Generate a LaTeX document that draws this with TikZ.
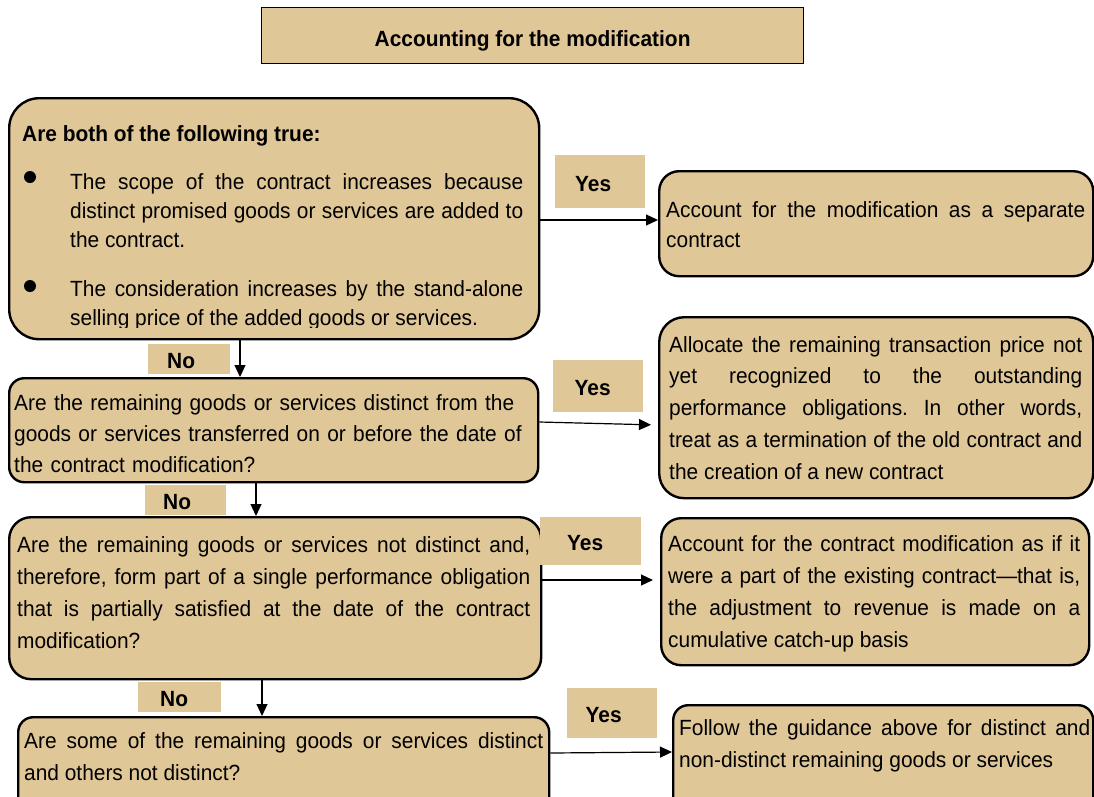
\documentclass[tikz,border=0pt]{standalone}
\usepackage{fontspec}
\setmainfont{Liberation Sans}[FakeStretch=0.95]
\usetikzlibrary{arrows.meta}
\definecolor{boxtan}{RGB}{224,199,151}
\tolerance=10000
\hbadness=10000
\frenchspacing
\tikzset{
  box/.style={draw=black, line width=2.4pt, fill=boxtan, inner sep=0pt, anchor=north west},
  lab/.style={fill=boxtan, inner ysep=0pt, anchor=north west, align=left, text height=19pt, text depth=0pt, font=\fontsize{22}{25}\selectfont\bfseries},
  txt/.style={inner sep=0pt, anchor=base west, font=\fontsize{22}{31}\selectfont},
  arr/.style={-{Triangle[length=12pt,width=11pt]}, line width=1.2pt},
  bul/.style={circle, fill=black, inner sep=0pt, minimum size=12pt},
}
\begin{document}
\begin{tikzpicture}[x=1pt,y=-1pt]
\useasboundingbox (0,0) rectangle (1094,796);
\clip (0,0) rectangle (1094,796);
% title
\node[draw=black, line width=1.2pt, fill=boxtan, minimum width=542pt, minimum height=56pt, anchor=north west, text height=21pt, text depth=0pt, font=\fontsize{22}{25}\selectfont\bfseries] (title) at (261,7) {Accounting for the modification};
% left boxes
\node[box, rounded corners=30pt, minimum width=530pt, minimum height=241pt] (b1) at (8,97) {};
\node[box, rounded corners=15pt, minimum width=529pt, minimum height=104pt] (b2) at (8,377) {};
\node[box, rounded corners=22pt, minimum width=532pt, minimum height=162pt] (b3) at (8,516) {};
\node[box, rounded corners=15pt, minimum width=531pt, minimum height=100pt] (b4) at (17,716) {};
% right boxes
\node[box, rounded corners=20pt, minimum width=434pt, minimum height=105pt] (r1) at (658,170) {};
\node[box, rounded corners=25pt, minimum width=434pt, minimum height=181pt] (r2) at (658,316) {};
\node[box, rounded corners=20pt, minimum width=428pt, minimum height=147pt] (r3) at (660,517) {};
\node[box, rounded corners=15pt, minimum width=420pt, minimum height=110pt] (r4) at (672,704) {};
% box 1 text
\node[txt, font=\fontsize{22}{29}\selectfont\bfseries] (b1h) at (22,141) {Are both of the following true:};
\node[bul] (d1) at (30,177) {};
\node[bul] (d2) at (30,286) {};
\node[txt, text width=453pt, align=justify, font=\fontsize{22}{29}\selectfont] (b1a) at (70,189) {The scope of the contract increases because\linebreak distinct promised goods or services are added to\linebreak the contract.};
\begin{scope}
\clip (60,270) rectangle (530,327);
\node[txt, text width=453pt, align=justify, font=\fontsize{22}{29}\selectfont] (b1b) at (70,296) {The consideration increases by the stand-alone\linebreak selling price of the added goods or services.};
\end{scope}
% other texts
\node[txt, text width=520pt, align=left] (b2t) at (14,410) {Are the remaining goods or services distinct from the\\ goods or services transferred on or before the date of\\ the contract modification?};
\node[txt, text width=513pt, align=justify, font=\fontsize{22}{32}\selectfont] (b3t) at (17,552) {Are the remaining goods or services not distinct and,\linebreak therefore, form part of a single performance obligation\linebreak that is partially satisfied at the date of the contract\linebreak modification?};
\node[txt, text width=519pt, align=justify, font=\fontsize{22}{32}\selectfont] (b4t) at (24,748) {Are some of the remaining goods or services distinct\linebreak and others not distinct?};
\node[txt, text width=419pt, align=justify, font=\fontsize{22}{30}\selectfont] (r1t) at (666,217) {Account for the modification as a separate\linebreak contract};
\node[txt, text width=413pt, align=justify, font=\fontsize{22}{31.75}\selectfont] (r2t) at (669,352) {Allocate the remaining transaction price not\linebreak yet recognized to the outstanding\linebreak performance obligations. In other words,\linebreak treat as a termination of the old contract and\linebreak the creation of a new contract};
\node[txt, text width=412pt, align=justify, font=\fontsize{22}{32}\selectfont] (r3t) at (668,551) {Account for the contract modification as if it\linebreak were a part of the existing contract—that is,\linebreak the adjustment to revenue is made on a\linebreak cumulative catch-up basis};
\node[txt, text width=411pt, align=justify, font=\fontsize{22}{32}\selectfont] (r4t) at (679,735) {Follow the guidance above for distinct and\linebreak non-distinct remaining goods or services};
% labels
\node[lab, inner xsep=20pt, text width=50pt, minimum height=53pt] (y1) at (555,155) {Yes};
\node[lab, inner xsep=21.5pt, text width=47pt, minimum height=52pt] (y2) at (553,360) {Yes};
\node[lab, inner xsep=27pt, text width=47pt, minimum height=48pt] (y3) at (540,517) {Yes};
\node[lab, inner xsep=18.5pt, text width=53pt, minimum height=50pt] (y4) at (567,688) {Yes};
\node[lab, inner xsep=19pt, text width=44pt, minimum height=30pt] (n1) at (148,344) {No};
\node[lab, inner xsep=18pt, text width=45pt, minimum height=30pt] (n2) at (145,485) {No};
\node[lab, inner xsep=22pt, text width=39pt, minimum height=30pt] (n3) at (138,682) {No};
% connectors
\coordinate (ya1) at (0,220);
\coordinate (ya2s) at (0,422);
\coordinate (ya2e) at (0,425);
\coordinate (ya3) at (0,580);
\coordinate (ya4s) at (0,753);
\coordinate (ya4e) at (0,752);
\coordinate (xn1) at (240,0);
\coordinate (xn2) at (256,0);
\coordinate (xn3) at (262,0);
\draw[arr] (b1.east |- ya1) -- (r1.west |- ya1);
\draw[arr, shorten >=7pt] (b2.east |- ya2s) -- (r2.west |- ya2e);
\draw[arr, shorten >=7pt] (b3.east |- ya3) -- (r3.west |- ya3);
\draw[arr] (b4.east |- ya4s) -- (r4.west |- ya4e);
\draw[arr] (b1.south -| xn1) -- (b2.north -| xn1);
\draw[arr] (b2.south -| xn2) -- (b3.north -| xn2);
\draw[arr] (b3.south -| xn3) -- (b4.north -| xn3);
\end{tikzpicture}
\end{document}
